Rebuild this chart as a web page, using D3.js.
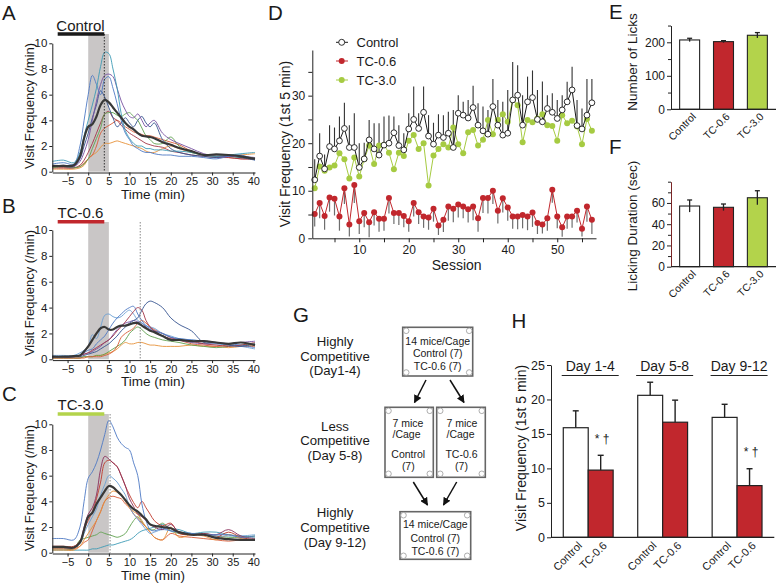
<!DOCTYPE html>
<html><head><meta charset="utf-8">
<script src="https://cdn.jsdelivr.net/npm/d3@7"></script>
<style>
body{margin:0;background:#fff;}
svg{display:block;font-family:"Liberation Sans",Arial,Helvetica,sans-serif;}
</style></head><body>
<svg id="fig" width="778" height="586"></svg>
<script>
// ---------------- DATA ----------------
// Panels A-C: time grid (min) and visit frequency (/min)
const T = [-8.7,-6,-3.5,-2,-1,0,1,2,3,4,5,6,7,8,9,10,11,12,13,14,15,16,18,20,22,25,28,31,34,37,40.4];

const meanA = [0.45,0.45,0.5,1.2,2.6,3.5,3.7,4.3,5.2,5.6,5.4,5.0,4.6,4.2,3.8,3.5,3.3,3.0,2.8,2.75,2.7,2.6,2.3,2.1,1.85,1.6,1.3,1.35,1.3,1.2,1.0];
const tealA = [0.8,0.9,0.7,1.5,2.8,4.0,5.2,6.5,8.2,9.3,9.2,8.0,6.5,4.5,3.2,2.6,2.2,2.0,2.0,1.8,1.8,1.7,1.7,1.6,1.6,1.5,1.3,1.2,1.3,1.4,1.5];
const blueA = [0.6,0.7,0.6,2.0,4.0,6.0,7.5,6.8,6.0,7.2,7.4,6.5,5.3,4.0,3.0,2.5,2.0,1.8,1.6,1.5,1.5,1.4,1.3,1.3,1.2,1.2,1.1,1.0,1.2,1.3,0.9];
const purpleA = [0.4,0.4,0.4,0.8,1.5,2.5,4.0,5.5,6.8,7.5,7.6,7.4,6.5,5.5,4.8,4.3,4.2,4.5,4.0,3.5,3.8,4.0,3.0,2.5,2.2,1.8,1.4,1.2,1.2,1.2,1.1];
const navyA = [0.4,0.5,0.4,1.0,2.0,3.0,4.2,5.2,6.3,5.8,5.0,4.2,3.5,3.8,4.2,3.8,3.5,4.0,4.3,3.8,3.5,3.8,2.5,1.8,1.5,1.3,1.2,1.1,1.2,1.1,0.9];
const greenA = [0.3,0.4,0.3,0.4,0.6,1.0,1.8,2.6,3.4,4.5,4.6,4.6,4.4,4.3,4.5,4.6,4.3,4.0,3.4,2.8,2.5,2.2,2.2,2.7,2.0,1.5,1.3,1.2,1.2,1.1,1.1];
const redA = [0.3,0.3,0.3,0.5,0.9,1.5,2.2,3.0,3.8,4.5,4.7,4.2,4.0,3.6,3.3,3.0,2.8,2.6,2.4,2.2,2.1,2.0,1.9,1.6,1.5,1.3,1.2,1.1,1.1,1.0,1.0];
const orangeA = [0.2,0.2,0.2,0.3,0.5,1.0,1.3,1.5,1.9,2.2,2.2,2.3,2.4,2.3,2.2,2.1,2.0,1.9,1.8,1.6,1.5,1.5,1.8,2.0,1.8,1.5,1.3,1.2,1.2,1.3,1.4];
const orangeRedA = [0.3,0.3,0.3,0.4,0.7,1.0,1.3,2.0,3.0,3.4,3.6,3.8,4.0,3.8,3.5,3.3,3.1,3.0,2.9,2.8,2.8,2.7,2.5,2.3,2.1,1.6,1.3,1.2,1.1,1.0,1.0];

const meanB = [0.2,0.2,0.25,0.3,0.6,1.0,1.5,2.0,2.4,2.5,2.3,2.3,2.5,2.6,2.6,2.7,2.8,2.8,2.6,2.4,2.2,2.1,1.8,1.5,1.5,1.4,1.4,1.3,1.2,1.3,1.1];
const navyB = [0.2,0.2,0.2,0.2,0.3,0.4,0.5,0.6,0.8,1.0,1.2,1.5,1.8,2.2,2.5,2.8,3.0,3.2,3.8,4.3,4.5,4.4,4.0,3.2,2.7,2.2,1.3,1.3,1.1,1.0,1.2];
const maroonB = [0.2,0.2,0.2,0.3,0.4,0.5,0.7,0.9,1.1,1.3,1.5,1.8,2.2,2.5,2.9,3.3,3.7,4.0,3.8,3.0,2.5,2.2,1.8,1.6,1.5,1.4,1.2,1.1,1.0,1.1,1.3];
const lightBlueB = [0.3,0.3,0.3,0.5,0.7,1.0,1.9,1.6,2.5,3.4,3.5,3.3,3.2,3.3,3.6,3.8,3.5,3.0,2.8,2.6,2.5,2.4,2.0,1.8,1.6,1.5,1.4,1.2,1.1,1.0,0.8];
const blueB = [0.2,0.2,0.2,0.3,0.5,0.7,0.8,1.2,1.5,1.8,2.3,2.8,3.2,3.5,3.8,4.0,4.1,3.5,3.0,2.6,2.4,2.2,2.0,1.7,1.6,1.5,1.4,1.3,1.2,1.1,0.9];
const greenB = [0.1,0.1,0.1,0.1,0.2,0.2,0.2,0.3,0.3,0.4,0.6,0.8,1.0,1.2,1.5,2.0,2.3,2.5,2.3,2.0,1.8,1.7,1.5,1.4,1.3,1.1,1.0,0.9,1.0,1.1,1.2];
const orangeB = [0.1,0.1,0.1,0.1,0.2,0.2,0.2,0.3,0.3,0.4,0.5,0.6,0.8,1.1,1.3,1.2,1.2,1.3,1.3,1.2,1.1,1.1,1.0,1.0,1.0,1.1,1.0,1.0,0.9,1.0,1.1];
const purpleB = [0.2,0.2,0.2,0.3,0.4,0.5,0.6,0.8,1.0,1.3,1.5,1.9,2.3,2.6,2.8,2.9,3.0,2.9,2.8,2.5,2.3,2.2,2.0,1.7,1.5,1.3,1.2,1.2,1.2,1.3,1.4];
const orangeRedB = [0.1,0.1,0.1,0.1,0.1,0.2,0.2,0.2,0.2,0.3,0.4,0.6,1.0,1.7,2.0,2.2,2.4,2.8,3.0,2.8,2.5,2.3,2.0,1.7,1.5,1.2,1.1,1.0,1.1,1.0,1.0];

const meanC = [0.45,0.45,0.4,0.8,1.8,2.8,3.1,3.8,4.3,4.8,5.2,5.1,4.8,4.5,4.1,3.7,3.4,3.2,2.9,2.6,2.2,2.1,2.0,1.9,1.6,1.4,1.4,1.15,1.05,1.0,1.0];
const blueC = [1.1,1.1,1.0,2.0,4.0,5.8,6.3,7.0,8.0,9.2,10.3,9.8,9.0,8.5,8.2,8.0,7.0,6.0,3.8,2.5,1.8,1.7,1.9,1.7,1.6,1.5,1.4,1.4,1.4,1.2,1.3];
const maroonC = [0.4,0.4,0.4,0.8,2.0,3.0,3.5,4.5,6.5,7.5,7.3,7.0,6.7,6.0,5.2,4.2,3.6,3.0,2.8,2.5,2.2,2.0,1.8,2.2,1.6,1.4,1.5,1.4,1.8,1.3,1.1];
const redC = [0.5,0.5,0.5,0.9,1.8,2.5,3.2,4.2,5.5,7.0,7.2,7.0,6.7,6.0,5.2,4.5,3.9,3.5,4.0,3.5,3.0,2.5,2.1,2.3,1.5,1.4,1.4,1.2,1.6,1.2,1.0];
const lightBlueC = [0.4,0.4,0.4,0.7,1.5,2.2,2.8,3.4,4.5,5.3,6.0,5.8,5.5,5.0,4.5,3.6,3.0,2.6,2.2,1.8,1.5,1.6,1.8,1.7,1.6,1.5,1.4,1.3,1.3,1.3,1.4];
const orangeC = [0.2,0.2,0.2,0.5,1.0,1.5,2.0,2.5,3.2,4.0,4.5,4.8,4.7,4.5,4.0,3.5,3.2,3.0,2.5,2.0,1.6,1.2,1.0,2.0,1.2,1.4,1.3,1.0,1.4,1.1,1.0];
const orangeRedC = [0.3,0.3,0.3,0.5,0.8,1.0,1.7,2.5,3.2,4.0,4.3,4.4,4.3,4.2,3.8,3.5,3.0,2.7,2.3,2.0,1.6,1.2,1.0,1.5,1.3,1.2,1.1,1.0,0.9,1.0,1.0];
const greenC = [0.3,0.3,0.3,1.0,1.1,1.2,1.3,1.4,1.6,1.5,1.4,1.3,1.2,1.3,1.5,2.0,2.5,2.8,2.4,2.0,1.8,1.8,2.3,1.7,1.5,1.4,1.5,1.3,1.2,1.2,1.3];
const tealC = [0.2,0.2,0.2,0.2,0.2,0.2,0.3,0.3,0.4,0.5,0.6,0.6,0.7,0.8,0.9,1.0,1.2,1.5,1.7,1.8,1.9,2.0,2.2,1.9,1.8,1.5,1.6,1.6,1.4,1.3,1.2];

const timeTicks = [-5,0,5,10,15,20,25,30,35,40];
const freqTicks = [0,2,4,6,8,10];

// Panel D: sessions
const sessions = d3.range(1, 58);
const dControl = [12.3,17.3,14.6,19.3,18.8,20.5,23.1,19.1,19.1,14.9,16.7,20.7,18.8,17.5,19.6,20.0,22.2,19.5,18.6,23.0,25.0,23.1,26.5,21.5,19.8,21.7,21.2,22.1,19.1,26.3,25.9,25.3,27.5,23.8,22.6,21.9,27.7,23.8,21.7,22.1,29.1,30.1,23.8,28.7,29.6,25.0,24.5,27.3,26.5,25.2,27.0,28.7,31.2,23.7,23.0,25.9,28.5];
const dControlErr = [4.3,4.8,3.0,4.5,4.5,5.1,5.4,4.7,7.2,5.1,3.4,4.2,5.4,6.7,6.0,5.8,3.4,4.3,3.5,3.3,6.9,3.2,5.4,4.4,4.5,4.4,4.7,4.5,7.9,3.8,2.8,3.8,4.6,4.6,5.1,5.1,5.8,5.3,7.0,9.1,8.0,6.3,6.3,5.3,5.7,6.2,8.5,2.8,4.0,3.9,3.1,4.2,4.9,5.4,4.3,7.6,5.0];
const dTC06 = [5.1,7.4,4.7,8.6,8.3,4.6,10.5,2.9,11.2,3.6,5.3,3.4,5.5,4.1,4.1,8.5,5.3,5.3,4.7,3.6,7.4,5.5,4.6,4.4,6.2,2.7,3.9,6.7,6.2,7.1,6.7,6.1,6.7,4.2,8.5,8.5,10.0,5.8,8.4,6.5,4.6,4.6,4.9,4.6,5.4,3.2,2.9,4.2,10.2,4.6,2.3,4.6,4.6,5.8,2.0,6.7,3.9];
const dTC06Err = [2.6,3.2,2.9,3.0,3.5,3.0,3.3,2.5,3.8,2.7,3.0,3.2,2.8,2.7,2.5,3.3,2.3,2.5,2.4,2.2,2.8,2.5,2.4,2.6,2.7,2.0,2.6,3.0,2.8,2.7,2.5,2.8,2.9,2.8,3.2,3.3,2.8,2.7,3.0,2.8,2.6,2.7,2.8,2.9,3.0,2.3,1.9,2.6,2.7,2.5,2.0,2.6,2.4,2.5,1.6,3.2,3.0];
const dTC30 = [10.5,15.1,14.2,14.9,15.3,17.9,16.6,12.6,17.0,13.0,16.6,19.5,15.6,19.5,19.6,18.0,14.5,18.0,17.3,20.5,21.7,18.8,20.0,11.1,17.4,18.8,19.8,19.1,23.3,19.8,17.9,22.3,22.8,19.5,20.7,24.9,21.9,24.9,26.1,24.5,29.1,28.0,20.2,24.9,24.4,25.2,26.1,23.8,23.6,20.5,25.9,24.2,24.7,23.5,19.8,25.1,22.6];
const dLegend = ['Control','TC-0.6','TC-3.0'];
const dYTicks = [0,10,20,30];
const dXTicks = [10,20,30,40,50];

// Panels E, F
const efCats = ['Control','TC-0.6','TC-3.0'];
const eLicks = [207, 202, 221];
const eLicksErr = [5, 3, 8];
const fDuration = [57.1, 55.9, 64.9];
const fDurationErr = [5.7, 3.1, 6.6];

// Panel H
const hGroups = ['Day 1-4','Day 5-8','Day 9-12'];
const hCats = ['Control','TC-0.6'];
const hControl = [15.9, 20.6, 17.4];
const hControlErr = [2.45, 1.9, 1.9];
const hTC06 = [9.75, 16.7, 7.5];
const hTC06Err = [2.15, 3.2, 2.45];
const hSig = ['*  \u2020', '', '*  \u2020'];
const hYTicks = [0,5,10,15,20,25];

// ---------------- DRAW ----------------
const FONT = '"Liberation Sans",Arial,Helvetica,sans-serif';
const RED = '#c1272d', GREEN = '#b3d34b', DGREEN = '#a6cb42';
const svg = d3.select('#fig');

function text(x, y, s, size, anchor) {
  return svg.append('text').attr('x', x).attr('y', y).attr('font-size', size)
    .attr('text-anchor', anchor || 'start').attr('fill', '#1a1a1a').text(s);
}
function vtext(x, y, s, size) {
  return svg.append('text').attr('transform', `translate(${x},${y}) rotate(-90)`)
    .attr('font-size', size).attr('text-anchor', 'middle').attr('fill', '#1a1a1a').text(s);
}
function styleAxis(g, size) {
  g.attr('font-size', size).attr('font-family', FONT);
  g.selectAll('path,line').attr('stroke', '#222').attr('stroke-width', 1);
  g.selectAll('text').attr('fill', '#1a1a1a');
}

// ---- Panels A-C ----
const timePanels = [
  {letter:'A', letterY:20, title:'Control', titleY:30.5, barY:34, barColor:'#1a1a1a',
   y0:171.7, y10:43.3, shadeTop:34, mark:3.9, markColor:'#333',
   lines:[orangeA, orangeRedA, redA, greenA, navyA, purpleA, blueA, tealA],
   colors:['#e6923a','#d85a35','#a33546','#5fa04e','#34528f','#7650a0','#4e79c4','#3d9bb5'],
   mean:meanA, labelY:106},
  {letter:'B', letterY:213, title:'TC-0.6', titleY:218, barY:221.7, barColor:RED,
   y0:359.3, y10:230, shadeTop:222, mark:12.6, markColor:'#888',
   lines:[orangeB, greenB, orangeRedB, purpleB, lightBlueB, blueB, maroonB, navyB],
   colors:['#e6923a','#5fa04e','#d85a35','#7650a0','#6b9fd4','#4e79c4','#a33546','#34528f'],
   mean:meanB, labelY:293},
  {letter:'C', letterY:401, title:'TC-3.0', titleY:410, barY:414, barColor:GREEN,
   y0:552.7, y10:424.3, shadeTop:414, mark:5.3, markColor:'#888',
   lines:[tealC, greenC, orangeRedC, orangeC, lightBlueC, redC, maroonC, blueC],
   colors:['#3d9bb5','#5fa04e','#d85a35','#e6923a','#6b9fd4','#c0392b','#8a2e5a','#4e79c4'],
   mean:meanC, labelY:488}
];

timePanels.forEach(p => {
  const x = d3.scaleLinear().domain([-8.7, 40.4]).range([52.3, 255]);
  const y = d3.scaleLinear().domain([0, 10]).range([p.y0, p.y10]);
  svg.append('rect').attr('x', x(0)).attr('y', p.shadeTop)
    .attr('width', x(5) - x(0)).attr('height', p.y0 - p.shadeTop).attr('fill', '#c9c6c6');
  const line = d3.line().x((d, i) => x(T[i])).y(d => y(d)).curve(d3.curveCatmullRom.alpha(0.5));
  p.lines.forEach((arr, i) => {
    svg.append('path').attr('d', line(arr)).attr('fill', 'none')
      .attr('stroke', p.colors[i]).attr('stroke-width', 0.9);
  });
  svg.append('line').attr('x1', x(p.mark)).attr('x2', x(p.mark))
    .attr('y1', p.shadeTop).attr('y2', p.y0).attr('stroke', p.markColor)
    .attr('stroke-width', 1).attr('stroke-dasharray', '1.5,1.5');
  svg.append('path').attr('d', line(p.mean)).attr('fill', 'none')
    .attr('stroke', '#383838').attr('stroke-width', 2.2);
  const gx = svg.append('g').attr('transform', `translate(0,${p.y0 + 0.8})`)
    .call(d3.axisBottom(x).tickValues(timeTicks).tickSize(3).tickPadding(2).tickSizeOuter(0));
  styleAxis(gx, 11);
  const gy = svg.append('g').attr('transform', 'translate(52.3,0)')
    .call(d3.axisLeft(y).tickValues(freqTicks).tickSize(3).tickPadding(2).tickSizeOuter(0));
  styleAxis(gy, 11.5);
  svg.append('line').attr('x1', 57.7).attr('x2', 104.3).attr('y1', p.barY).attr('y2', p.barY)
    .attr('stroke', p.barColor).attr('stroke-width', 3.5);
  text(80.5, p.titleY, p.title, 15, 'middle');
  text(2, p.letterY, p.letter, 20.5, 'start');
  vtext(33.5, p.labelY, 'Visit Frequency (/min)', 13);
  text(153, p.y0 + 27, 'Time (min)', 13.5, 'middle');
});

// ---- Panel D ----
(function () {
  const x = d3.scaleLinear().domain([0.515, 57.83]).range([312.3, 596]);
  const y = d3.scaleLinear().domain([0, 39.6]).range([238.3, 50]);
  sessions.forEach((s, i) => {
    svg.append('line').attr('x1', x(s)).attr('x2', x(s))
      .attr('y1', y(dTC06[i])).attr('y2', y(dTC06[i] - dTC06Err[i]))
      .attr('stroke', '#6e6e6e').attr('stroke-width', 1.2);
  });
  sessions.forEach((s, i) => {
    svg.append('line').attr('x1', x(s)).attr('x2', x(s))
      .attr('y1', y(dControl[i])).attr('y2', y(dControl[i] + dControlErr[i]))
      .attr('stroke', '#333').attr('stroke-width', 1.1);
  });
  const line = d3.line().x((d, i) => x(sessions[i])).y(d => y(d));
  svg.append('path').attr('d', line(dTC30)).attr('fill', 'none').attr('stroke', DGREEN).attr('stroke-width', 1);
  svg.selectAll(null).data(dTC30).enter().append('circle')
    .attr('cx', (d, i) => x(sessions[i])).attr('cy', d => y(d)).attr('r', 3).attr('fill', DGREEN);
  svg.append('path').attr('d', line(dTC06)).attr('fill', 'none').attr('stroke', RED).attr('stroke-width', 1);
  svg.selectAll(null).data(dTC06).enter().append('circle')
    .attr('cx', (d, i) => x(sessions[i])).attr('cy', d => y(d)).attr('r', 3).attr('fill', RED);
  svg.append('path').attr('d', line(dControl)).attr('fill', 'none').attr('stroke', '#1a1a1a').attr('stroke-width', 1);
  svg.selectAll(null).data(dControl).enter().append('circle')
    .attr('cx', (d, i) => x(sessions[i])).attr('cy', d => y(d)).attr('r', 2.9)
    .attr('fill', '#fff').attr('stroke', '#1a1a1a').attr('stroke-width', 0.9);
  const gx = svg.append('g').attr('transform', 'translate(0,238.3)')
    .call(d3.axisBottom(x).tickValues(dXTicks).tickSize(4).tickPadding(3).tickSizeOuter(0));
  styleAxis(gx, 12);
  const gxm = svg.append('g').attr('transform', 'translate(0,238.3)')
    .call(d3.axisBottom(x).tickValues([5,15,25,35,45,55]).tickSize(4).tickFormat('').tickSizeOuter(0));
  styleAxis(gxm, 12); gxm.select('.domain').remove();
  const gy = svg.append('g').attr('transform', 'translate(312.3,0)')
    .call(d3.axisLeft(y).tickValues(dYTicks).tickSize(4).tickPadding(3).tickSizeOuter(0));
  styleAxis(gy, 12);
  const gym = svg.append('g').attr('transform', 'translate(312.3,0)')
    .call(d3.axisLeft(y).tickValues([5,15,25,35]).tickSize(4).tickFormat('').tickSizeOuter(0));
  styleAxis(gym, 12); gym.select('.domain').remove();
  const legFill = ['#fff', RED, DGREEN], legStroke = ['#1a1a1a', RED, DGREEN];
  const legY = [42.3, 61, 80];
  dLegend.forEach((name, i) => {
    svg.append('line').attr('x1', 336).attr('x2', 348).attr('y1', legY[i]).attr('y2', legY[i])
      .attr('stroke', legStroke[i]).attr('stroke-width', 1);
    svg.append('circle').attr('cx', 341.7).attr('cy', legY[i]).attr('r', 3)
      .attr('fill', legFill[i]).attr('stroke', i === 0 ? '#1a1a1a' : 'none').attr('stroke-width', 0.9);
    text(356.5, legY[i] + 4.6, name, 13, 'start');
  });
  text(268, 19.5, 'D', 20.5, 'start');
  vtext(290, 144, 'Visit Frequency (1st 5 min)', 14);
  text(456.7, 269.5, 'Session', 14, 'middle');
})();

// ---- Panels E, F ----
function barPanel(cfg) {
  const x = d3.scaleBand().domain(efCats).range([671, 776]).paddingInner(0.41).paddingOuter(0.255);
  const y = d3.scaleLinear().domain(cfg.domain).range([cfg.y0, cfg.yTop]);
  const fills = ['#fff', RED, GREEN];
  efCats.forEach((c, i) => {
    svg.append('rect').attr('x', x(c)).attr('y', y(cfg.values[i])).attr('width', x.bandwidth())
      .attr('height', cfg.y0 - y(cfg.values[i])).attr('fill', fills[i])
      .attr('stroke', '#222').attr('stroke-width', 1.1);
    const cx = x(c) + x.bandwidth() / 2;
    const top = y(cfg.values[i] + cfg.errs[i]);
    svg.append('line').attr('x1', cx).attr('x2', cx).attr('y1', y(cfg.values[i] - cfg.errs[i])).attr('y2', top)
      .attr('stroke', '#222').attr('stroke-width', 1.3);
    svg.append('line').attr('x1', cx - 2.5).attr('x2', cx + 2.5).attr('y1', top).attr('y2', top)
      .attr('stroke', '#222').attr('stroke-width', 1.3);
    svg.append('text').attr('transform', `translate(${cx + 7},${cfg.y0 + 8}) rotate(-45)`)
      .attr('font-size', 10.5).attr('text-anchor', 'end').attr('fill', '#1a1a1a').text(c);
  });
  const gy = svg.append('g').attr('transform', 'translate(671,0)')
    .call(d3.axisLeft(y).tickValues(cfg.ticks).tickSize(4).tickPadding(2).tickSizeOuter(0));
  styleAxis(gy, 12);
  if (cfg.axisColor) gy.select('.domain').attr('stroke', cfg.axisColor);
  const gym = svg.append('g').attr('transform', 'translate(671,0)')
    .call(d3.axisLeft(y).tickValues(cfg.minor).tickSize(3).tickFormat('').tickSizeOuter(0));
  styleAxis(gym, 12); gym.select('.domain').remove();
  svg.append('line').attr('x1', 671).attr('x2', 776).attr('y1', cfg.y0).attr('y2', cfg.y0)
    .attr('stroke', '#222').attr('stroke-width', 1.2);
  text(609, cfg.letterY, cfg.letter, 20.5, 'start');
  vtext(637, cfg.labelY, cfg.label, 13.5);
}
barPanel({letter:'E', letterY:18.5, label:'Number of Licks', labelY:62, values:eLicks, errs:eLicksErr,
  domain:[0, 250], y0:109.3, yTop:25.55, ticks:[0,100,200], minor:[50,150,250]});
barPanel({letter:'F', letterY:154, label:'Licking Duration (sec)', labelY:226, values:fDuration, errs:fDurationErr,
  domain:[0, 80], y0:266.7, yTop:181.7, ticks:[0,20,40,60], minor:[10,30,50,70,80], axisColor:'#7a2626'});

// ---- Panel G (schematic) ----
(function () {
  text(293, 322, 'G', 20.5, 'start');
  svg.append('defs').append('marker').attr('id', 'arr').attr('viewBox', '0 0 10 10')
    .attr('refX', 9).attr('refY', 5).attr('markerWidth', 8).attr('markerHeight', 8)
    .attr('markerUnits', 'userSpaceOnUse').attr('orient', 'auto')
    .append('path').attr('d', 'M0,0 L10,5 L0,10 z').attr('fill', '#111');
  const boxes = [
    {x:402.7, y:327.3, w:70, h:48.7},
    {x:385, y:407.3, w:48.3, h:70},
    {x:436.7, y:407.3, w:48.6, h:70},
    {x:400, y:511.7, w:70.7, h:47.6}
  ];
  boxes.forEach(b => {
    svg.append('rect').attr('x', b.x).attr('y', b.y).attr('width', b.w).attr('height', b.h)
      .attr('fill', '#fff').attr('stroke', '#666').attr('stroke-width', 1.6);
    [[b.x + 3.5, b.y + 3.5], [b.x + b.w - 3.5, b.y + 3.5], [b.x + 3.5, b.y + b.h - 3.5], [b.x + b.w - 3.5, b.y + b.h - 3.5]]
      .forEach(([cx, cy]) => svg.append('circle').attr('cx', cx).attr('cy', cy).attr('r', 2.8)
        .attr('fill', '#fff').attr('stroke', '#999').attr('stroke-width', 0.8));
  });
  const fs = 10.5;
  text(437.7, 344.5, '14 mice/Cage', fs, 'middle');
  text(437.7, 356.5, 'Control (7)', fs, 'middle');
  text(437.7, 369.5, 'TC-0.6 (7)', fs, 'middle');
  text(392.5, 426.5, '7 mice', fs, 'start');
  text(392.5, 437.5, '/Cage', fs, 'start');
  text(408.3, 458, 'Control', fs, 'middle');
  text(408.3, 469.5, '(7)', fs, 'middle');
  text(446.5, 426.5, '7 mice', fs, 'start');
  text(446.5, 437.5, '/Cage', fs, 'start');
  text(461.5, 458, 'TC-0.6', fs, 'middle');
  text(461.5, 469.5, '(7)', fs, 'middle');
  text(435.3, 527.8, '14 mice/Cage', fs, 'middle');
  text(435.3, 541.5, 'Control (7)', fs, 'middle');
  text(435.3, 554.5, 'TC-0.6 (7)', fs, 'middle');
  const arrows = [[426, 380, 414.5, 402.5], [450, 380, 464, 402.5], [413.3, 482, 427.5, 505], [456.7, 482, 443.5, 505]];
  arrows.forEach(a => svg.append('line').attr('x1', a[0]).attr('y1', a[1]).attr('x2', a[2]).attr('y2', a[3])
    .attr('stroke', '#111').attr('stroke-width', 1.5).attr('marker-end', 'url(#arr)'));
  const rows = [
    [['Highly', 346], ['Competitive', 360.5], ['(Day1-4)', 375]],
    [['Less', 430.5], ['Competitive', 445], ['(Day 5-8)', 459.5]],
    [['Highly', 516.5], ['Competitive', 532], ['(Day 9-12)', 546.5]]
  ];
  rows.forEach(r => r.forEach(([s, yy]) => text(335, yy, s, 13.2, 'middle')));
})();

// ---- Panel H ----
(function () {
  const x0 = d3.scaleBand().domain(hGroups).range([551, 774.3]).paddingInner(0.33).paddingOuter(0.165);
  const x1 = d3.scaleBand().domain(hCats).range([0, x0.bandwidth()]);
  const y = d3.scaleLinear().domain([0, 25]).range([537.3, 365]);
  const series = [{vals:hControl, errs:hControlErr, fill:'#fff'}, {vals:hTC06, errs:hTC06Err, fill:RED}];
  hGroups.forEach((g, gi) => {
    series.forEach((s, si) => {
      const bx = x0(g) + x1(hCats[si]);
      const v = s.vals[gi];
      svg.append('rect').attr('x', bx).attr('y', y(v)).attr('width', x1.bandwidth())
        .attr('height', 537.3 - y(v)).attr('fill', s.fill).attr('stroke', '#222').attr('stroke-width', 1.2);
      const cx = bx + x1.bandwidth() / 2;
      const top = y(v + s.errs[gi]);
      svg.append('line').attr('x1', cx).attr('x2', cx).attr('y1', y(v)).attr('y2', top)
        .attr('stroke', '#222').attr('stroke-width', 1.4);
      svg.append('line').attr('x1', cx - 3).attr('x2', cx + 3).attr('y1', top).attr('y2', top)
        .attr('stroke', '#222').attr('stroke-width', 1.4);
      svg.append('text').attr('transform', `translate(${cx + 7},${537.3 + 9}) rotate(-45)`)
        .attr('font-size', 11).attr('text-anchor', 'end').attr('fill', '#1a1a1a').text(hCats[si]);
      if (si === 1 && hSig[gi]) {
        text(cx + 1.5, top - 12.5, hSig[gi], 12, 'middle');
      }
    });
    const gc = x0(g) + x0.bandwidth() / 2 + 2;
    text(gc, 370.5, g, 14, 'middle');
    svg.append('line').attr('x1', gc - 28.5).attr('x2', gc + 28.5).attr('y1', 375.5).attr('y2', 375.5)
      .attr('stroke', '#222').attr('stroke-width', 1.2);
  });
  const gy = svg.append('g').attr('transform', 'translate(551,0)')
    .call(d3.axisLeft(y).tickValues(hYTicks).tickSize(4).tickPadding(2).tickSizeOuter(0));
  styleAxis(gy, 12.5);
  svg.append('line').attr('x1', 551).attr('x2', 774.3).attr('y1', 537.3).attr('y2', 537.3)
    .attr('stroke', '#222').attr('stroke-width', 1.2);
  text(511.5, 327.5, 'H', 20.5, 'start');
  vtext(526, 448, 'Visit Frequency (1st 5 min)', 14);
})();
</script>
</body></html>
